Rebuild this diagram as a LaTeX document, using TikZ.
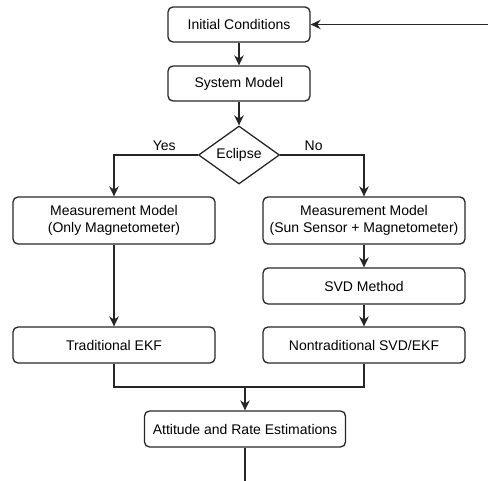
\documentclass[tikz,border=0pt]{standalone}
\usepackage{fontspec}
\setmainfont{Liberation Sans}
\usetikzlibrary{arrows.meta,shapes.geometric}

\tikzset{
	caja/.style={rectangle,rounded corners=5pt,draw=black!85,line width=1.3pt,minimum width=202pt,minimum height=36pt,align=center,inner sep=2pt},
	rombo/.style={diamond,draw=black!85,line width=1.3pt,minimum width=81pt,minimum height=58pt,aspect=1.4,inner sep=0pt},
	flecha/.style={draw=black!85,line width=1.3pt,-{Stealth[length=10pt,width=9.5pt]}},
	linea/.style={draw=black!85,line width=1.3pt}
}

\begin{document}
\begin{tikzpicture}[x=1pt,y=-1pt,font=\fontsize{14}{17.5}\selectfont]
			\useasboundingbox (0,0) rectangle (488,481);

			% Nodos
			\node at (239,24.5) [caja,minimum width=142pt,minimum height=35pt] (init) {Initial Conditions};
			\node at (239,83.5) [caja,minimum width=142pt,minimum height=35pt] (sysm) {System Model};
			\node at (239,155) [rombo] (ecl) {Eclipse};
			\node at (114,220.5) [caja,minimum height=47pt] (mmL) {Measurement Model\\(Only Magnetometer)};
			\node at (364,220.5) [caja,minimum height=47pt] (mmR) {Measurement Model\\(Sun Sensor + Magnetometer)};
			\node at (364,286) [caja] (svd) {SVD Method};
			\node at (114,345) [caja] (ekfL) {Traditional EKF};
			\node at (364,345) [caja] (ekfR) {Nontraditional SVD/EKF};
			\node at (245,429) [caja,minimum width=201pt] (att) {Attitude and Rate Estimations};

			% Puntos auxiliares
			\coordinate (fb) at (488,24.5);
			\coordinate (mrg) at (245,387);
			\coordinate (fin) at (245,481);

			% Flechas
			\draw[flecha] (fb) -- (init.east);
			\draw[flecha] (init) -- (sysm);
			\draw[flecha] (sysm) -- (ecl);
			\draw[flecha] (ecl.west) -| (mmL) node[pos=0.2,above] {Yes};
			\draw[flecha] (ecl.east) -| (mmR) node[pos=0.2,above] {No};
			\draw[flecha] (mmL) -- (ekfL);
			\draw[flecha] (mmR) -- (svd);
			\draw[flecha] (svd) -- (ekfR);

			% Union de ramas
			\draw[linea] (ekfL.south) |- (mrg);
			\draw[linea] (ekfR.south) |- (mrg);
			\draw[flecha] (mrg) -- (att);
			\draw[linea] (att) -- (fin);
		\end{tikzpicture}
\end{document}
